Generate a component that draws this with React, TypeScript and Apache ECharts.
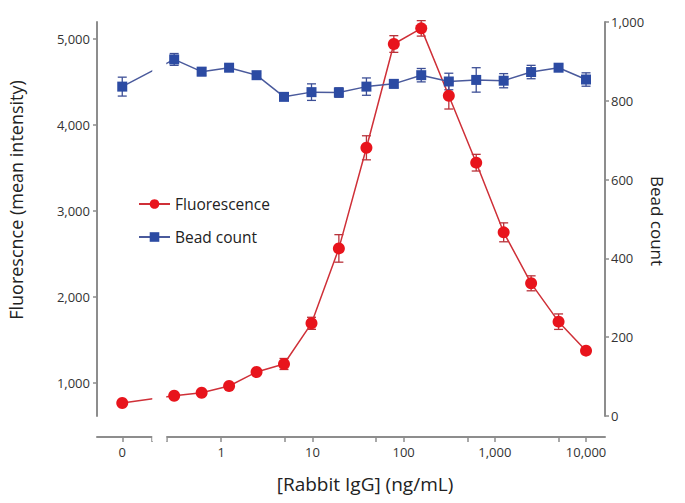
import React, { useEffect, useRef } from 'react';
import * as echarts from 'echarts';

// [Rabbit IgG] (ng/mL), 2-fold dilution series plus a blank (0)
const concentrations = [0, 0.305, 0.61, 1.22, 2.44, 4.88, 9.77, 19.5, 39.1, 78.1, 156, 313, 625, 1250, 2500, 5000, 10000];
const fluorescence = [767, 851, 887, 965, 1128, 1221, 1694, 2565, 3735, 4942, 5124, 4341, 3562, 2752, 2159, 1713, 1376];
const fluorescenceErr = [0, 0, 0, 0, 0, 64, 70, 160, 140, 97, 90, 155, 97, 110, 87, 90, 0];
const beadCount = [836, 905, 874, 884, 865, 810, 822, 821, 836, 843, 865, 849, 853, 851, 873, 884, 854];
const beadCountErr = [24, 15, 10, 8, 5, 5, 21, 12, 22, 10, 17, 21, 31, 18, 17, 8, 17];

const xLabelValues = [0, 1, 10, 100, 1000, 10000];
const xMinorTickValues = [5, 50, 500, 5000];
const leftTickValues = [1000, 2000, 3000, 4000, 5000];

// where the "0" category sits on the log axis, and the axis break edges
const ZERO_AT = 0.0822;
const BREAK_LO = 0.171;
const BREAK_HI = 0.256;

const FONT = '"Open Sans", "Noto Sans", sans-serif';
const AXIS_GRAY = '#8d8d8d';
const RED = '#e8141c';
const RED_LINE = '#cf3038';
const BLUE = '#2c4ba3';
const BLUE_LINE = '#4a5a9c';

const toX = (c: number) => (c === 0 ? ZERO_AT : c);
const fmt = (v: number) => (v < 0.1 ? '0' : Math.round(v).toLocaleString('en-US'));

function errorSeries(name: string, vals: number[], errs: number[], color: string, yAxisIndex: number) {
  return {
    type: 'custom',
    name,
    yAxisIndex,
    z: 1,
    silent: true,
    encode: { x: 0, y: [1, 2] },
    data: concentrations.map((c, i) => [toX(c), vals[i] - errs[i], vals[i] + errs[i], errs[i]]),
    renderItem: (params: any, api: any) => {
      if (api.value(3) <= 0) return null;
      const x = api.value(0);
      const top = api.coord([x, api.value(2)]);
      const bot = api.coord([x, api.value(1)]);
      const w = 4.5;
      const st = { stroke: color, lineWidth: 1.3 };
      return {
        type: 'group',
        children: [
          { type: 'line', shape: { x1: top[0], y1: top[1], x2: bot[0], y2: bot[1] }, style: st },
          { type: 'line', shape: { x1: top[0] - w, y1: top[1], x2: top[0] + w, y2: top[1] }, style: st },
          { type: 'line', shape: { x1: bot[0] - w, y1: bot[1], x2: bot[0] + w, y2: bot[1] }, style: st },
        ],
      };
    },
  };
}

export default function App() {
  const ref = useRef<HTMLDivElement>(null);
  useEffect(() => {
    if (!ref.current) return;
    const chart = echarts.init(ref.current, null, { renderer: 'svg' });
    const axisLine = { show: true, lineStyle: { color: AXIS_GRAY, width: 2 } };
    const axisLabelStyle = { color: '#333', fontSize: 13, fontFamily: FONT };
    chart.setOption({
      animation: false,
      backgroundColor: '#fff',
      grid: { left: 97, right: 80, top: 22, bottom: 87, containLabel: false },
      legend: {
        data: ['Fluorescence', 'Bead count'],
        orient: 'vertical',
        left: 133,
        top: 191,
        z: 100,
        itemWidth: 31,
        itemHeight: 12,
        itemGap: 17,
        textStyle: { fontSize: 15.5, color: '#222', fontFamily: FONT },
      },
      xAxis: {
        type: 'log',
        logBase: 10,
        min: Math.pow(10, -1.362),
        max: Math.pow(10, 4.208),
        position: 'bottom',
        offset: 21,
        axisLine: { ...axisLine, onZero: false },
        axisTick: {
          show: true,
          length: 5,
          lineStyle: { color: AXIS_GRAY, width: 1.5 },
          customValues: [...xLabelValues.map(toX), BREAK_LO, BREAK_HI, ...xMinorTickValues],
        },
        minorTick: { show: false },
        axisLabel: {
          ...axisLabelStyle,
          margin: 8,
          customValues: xLabelValues.map(toX),
          formatter: (v: number) => fmt(v),
        },
        splitLine: { show: false },
      },
      yAxis: [
        {
          type: 'value',
          position: 'left',
          min: 616,
          max: 5198,
          axisLine,
          axisTick: { show: true, length: 4, lineStyle: { color: AXIS_GRAY, width: 1.5 }, customValues: leftTickValues },
          axisLabel: { ...axisLabelStyle, margin: 7, customValues: leftTickValues, formatter: (v: number) => fmt(v) },
          splitLine: { show: false },
        },
        {
          type: 'value',
          position: 'right',
          min: 0,
          max: 1000,
          interval: 200,
          axisLine,
          axisTick: { show: true, length: 4, lineStyle: { color: AXIS_GRAY, width: 1.5 } },
          axisLabel: { ...axisLabelStyle, margin: 6, formatter: (v: number) => fmt(v) },
          splitLine: { show: false },
        },
      ],
      series: [
        errorSeries('fluorescence-error', fluorescence, fluorescenceErr, '#b8323a', 0),
        errorSeries('bead-error', beadCount, beadCountErr, '#3d4f96', 1),
        {
          name: 'Fluorescence',
          type: 'line',
          yAxisIndex: 0,
          z: 3,
          data: concentrations.map((c, i) => [toX(c), fluorescence[i]]),
          symbol: 'circle',
          symbolSize: 12,
          lineStyle: { color: RED_LINE, width: 1.5 },
          itemStyle: { color: RED },
        },
        {
          name: 'Bead count',
          type: 'line',
          yAxisIndex: 1,
          z: 3,
          data: concentrations.map((c, i) => [toX(c), beadCount[i]]),
          symbol: 'rect',
          symbolSize: 10,
          lineStyle: { color: BLUE_LINE, width: 1.5 },
          itemStyle: { color: BLUE },
        },
      ],
    });
    // axis break: blank out the strip between the two break ticks
    const xLo = chart.convertToPixel({ xAxisIndex: 0 }, BREAK_LO) as number;
    const xHi = chart.convertToPixel({ xAxisIndex: 0 }, BREAK_HI) as number;
    chart.setOption({
      graphic: [
        {
          type: 'rect',
          z: 50,
          silent: true,
          shape: { x: xLo + 1, y: 0, width: xHi - xLo - 2, height: 441 },
          style: { fill: '#fff' },
        },
        {
          type: 'text',
          z: 60,
          x: 16,
          y: 200,
          rotation: Math.PI / 2,
          style: { text: 'Fluorescnce (mean intensity)', align: 'center', verticalAlign: 'middle', fontSize: 18, fontFamily: FONT, fill: '#222' },
        },
        {
          type: 'text',
          z: 60,
          x: 657,
          y: 221,
          rotation: -Math.PI / 2,
          style: { text: 'Bead count', align: 'center', verticalAlign: 'middle', fontSize: 17, fontFamily: FONT, fill: '#222' },
        },
        {
          type: 'text',
          z: 60,
          x: 365,
          y: 484,
          style: { text: '[Rabbit IgG] (ng/mL)', align: 'center', verticalAlign: 'middle', fontSize: 19, fontFamily: FONT, fill: '#222' },
        },
      ],
    });
    return () => chart.dispose();
  }, []);
  return <div ref={ref} style={{ width: 685, height: 503, margin: -8 }} />;
}
